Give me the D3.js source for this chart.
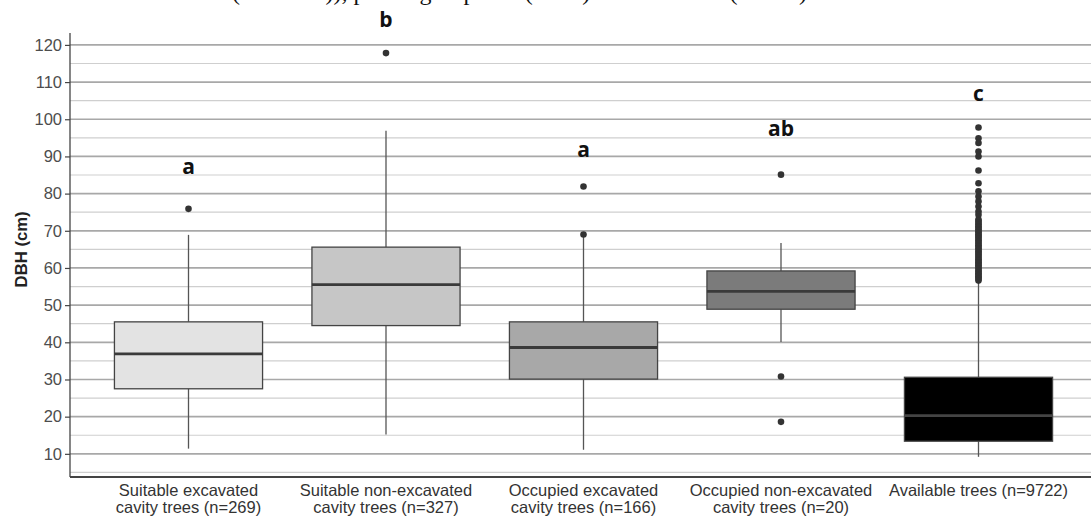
<!DOCTYPE html>
<html>
<head>
<meta charset="utf-8">
<script src="https://cdn.jsdelivr.net/npm/d3@7"></script>
<style>
  body { margin:0; background:#fff; }
  svg { display:block; }
</style>
</head>
<body>
<div id="chart"></div>
<script>
// --- data ---
var labelLine1 = ["Suitable excavated", "Suitable non-excavated", "Occupied excavated", "Occupied non-excavated", "Available trees (n=9722)"];
var labelLine2 = ["cavity trees (n=269)", "cavity trees (n=327)", "cavity trees (n=166)", "cavity trees (n=20)", ""];
var whiskLow  = [11.4, 15.2, 11.1, 40.1, 9.2];
var q1        = [27.5, 44.5, 30.1, 48.9, 13.4];
var medians   = [36.9, 55.5, 38.6, 53.7, 20.3];
var q3        = [45.5, 65.6, 45.5, 59.2, 30.6];
var whiskHigh = [68.9, 96.9, 68.7, 66.7, 56.2];
var outliers = [
  [75.9],
  [117.8],
  [81.9, 69.0],
  [85.1, 30.8, 18.6],
  [97.8, 94.9, 93.6, 91.3, 90.0, 86.2, 82.8, 80.6, 79.2, 77.9, 76.5, 75.2, 74.3, 73.0,
   72.6, 72.1, 71.7, 71.2, 70.8, 70.4, 69.9, 69.5, 69.1, 68.6, 68.3, 67.8, 67.4, 67.0,
   66.5, 66.1, 65.7, 65.3, 64.8, 64.4, 64.0, 63.6, 63.2, 62.7, 62.3, 61.9, 61.5, 61.1,
   60.7, 60.3, 59.9, 59.4, 59.0, 58.6, 58.2, 57.8, 57.4, 57.0, 56.6]
];
var letters  = ["a", "b", "a", "ab", "c"];
var letterAt = [85.3, 124.8, 89.9, 95.5, 104.9];
var majorTicks = d3.range(10, 121, 10);
var minorTicks = d3.range(5, 121, 10);

var fills = ["#e3e3e3", "#c6c6c6", "#a8a8a8", "#7b7b7b", "#000000"];
var medianCol = ["#3a3a3a", "#3a3a3a", "#3a3a3a", "#3a3a3a", "#444444"];

var W = 1091, H = 518;

var svg = d3.select("#chart").append("svg")
  .attr("width", W).attr("height", H);

var x = d3.scalePoint().domain(d3.range(5)).range([70, 1097]).padding(0.6);
var y = d3.scaleLinear().domain([3.77, 123.2]).range([477, 33]);
var bw = x.step() * 0.75;

// clipped caption line from the page above the figure
svg.append("text")
  .attr("x", 232).attr("y", 0)
  .attr("font-family", "Liberation Serif")
  .attr("font-size", 24)
  .attr("fill", "#111")
  .text("(n = 2019)), paired group size (n=20) and available (n=972)");

// grid
svg.append("g").selectAll("line.minor")
  .data(minorTicks).enter()
  .append("line")
    .attr("x1", 70).attr("x2", 1097)
    .attr("y1", function(d) { return y(d); })
    .attr("y2", function(d) { return y(d); })
    .attr("stroke", "#cfcfcf")
    .attr("stroke-width", 1.2);

svg.append("g").selectAll("line.major")
  .data(majorTicks).enter()
  .append("line")
    .attr("x1", 70).attr("x2", 1097)
    .attr("y1", function(d) { return y(d); })
    .attr("y2", function(d) { return y(d); })
    .attr("stroke", "#a8a8a8")
    .attr("stroke-width", 1.7);

// axes
var yAxis = svg.append("g")
  .attr("transform", "translate(70,0)")
  .call(d3.axisLeft(y).tickValues(majorTicks).tickSize(5).tickPadding(3));
yAxis.select(".domain").remove();
yAxis.selectAll(".tick line").attr("stroke", "#444").attr("stroke-width", 1.2);
yAxis.selectAll(".tick text")
  .attr("font-family", "Liberation Sans")
  .attr("font-size", 16.5)
  .attr("fill", "#4d4d4d");

svg.append("line")
  .attr("x1", 70).attr("x2", 70)
  .attr("y1", 33).attr("y2", 477)
  .attr("stroke", "#444").attr("stroke-width", 1.3);
svg.append("line")
  .attr("x1", 70).attr("x2", W)
  .attr("y1", 477).attr("y2", 477)
  .attr("stroke", "#444").attr("stroke-width", 2);

svg.append("text")
  .attr("transform", "translate(27," + y(65) + ") rotate(-90)")
  .attr("text-anchor", "middle")
  .attr("font-family", "Liberation Sans")
  .attr("font-weight", "bold")
  .attr("font-size", 16.7)
  .attr("fill", "#222")
  .text("DBH (cm)");

// boxes
var idx = d3.range(5);
var g = svg.append("g").selectAll("g.box")
  .data(idx).enter()
  .append("g");

g.append("line")
  .attr("x1", function(i) { return x(i); })
  .attr("x2", function(i) { return x(i); })
  .attr("y1", function(i) { return y(q3[i]); })
  .attr("y2", function(i) { return y(whiskHigh[i]); })
  .attr("stroke", "#555").attr("stroke-width", 1.3);
g.append("line")
  .attr("x1", function(i) { return x(i); })
  .attr("x2", function(i) { return x(i); })
  .attr("y1", function(i) { return y(q1[i]); })
  .attr("y2", function(i) { return y(whiskLow[i]); })
  .attr("stroke", "#555").attr("stroke-width", 1.3);

g.append("rect")
  .attr("x", function(i) { return x(i) - bw / 2; })
  .attr("width", bw)
  .attr("y", function(i) { return y(q3[i]); })
  .attr("height", function(i) { return y(q1[i]) - y(q3[i]); })
  .attr("fill", function(i) { return fills[i]; })
  .attr("stroke", "#444").attr("stroke-width", 1.3);

g.append("line")
  .attr("x1", function(i) { return x(i) - bw / 2; })
  .attr("x2", function(i) { return x(i) + bw / 2; })
  .attr("y1", function(i) { return y(medians[i]); })
  .attr("y2", function(i) { return y(medians[i]); })
  .attr("stroke", function(i) { return medianCol[i]; })
  .attr("stroke-width", 2.8);

g.selectAll("circle")
  .data(function(i) { return outliers[i].map(function(v) { return { i: i, v: v }; }); })
  .enter().append("circle")
    .attr("cx", function(d) { return x(d.i); })
    .attr("cy", function(d) { return y(d.v); })
    .attr("r", 3.3)
    .attr("fill", "#333");

g.append("text")
  .attr("x", function(i) { return x(i); })
  .attr("y", function(i) { return y(letterAt[i]); })
  .attr("text-anchor", "middle")
  .attr("font-family", "Open Sans")
  .attr("font-weight", "bold")
  .attr("font-size", 21)
  .attr("fill", "#111")
  .text(function(i) { return letters[i]; });

// category labels
var lab = svg.append("g").selectAll("text.cat")
  .data(idx).enter()
  .append("text")
    .attr("text-anchor", "middle")
    .attr("font-family", "Liberation Sans")
    .attr("font-size", 16.5)
    .attr("fill", "#333");
lab.append("tspan")
  .attr("x", function(i) { return x(i); })
  .attr("y", 496)
  .text(function(i) { return labelLine1[i]; });
lab.append("tspan")
  .attr("x", function(i) { return x(i); })
  .attr("y", 513)
  .text(function(i) { return labelLine2[i]; });
</script>
</body>
</html>
